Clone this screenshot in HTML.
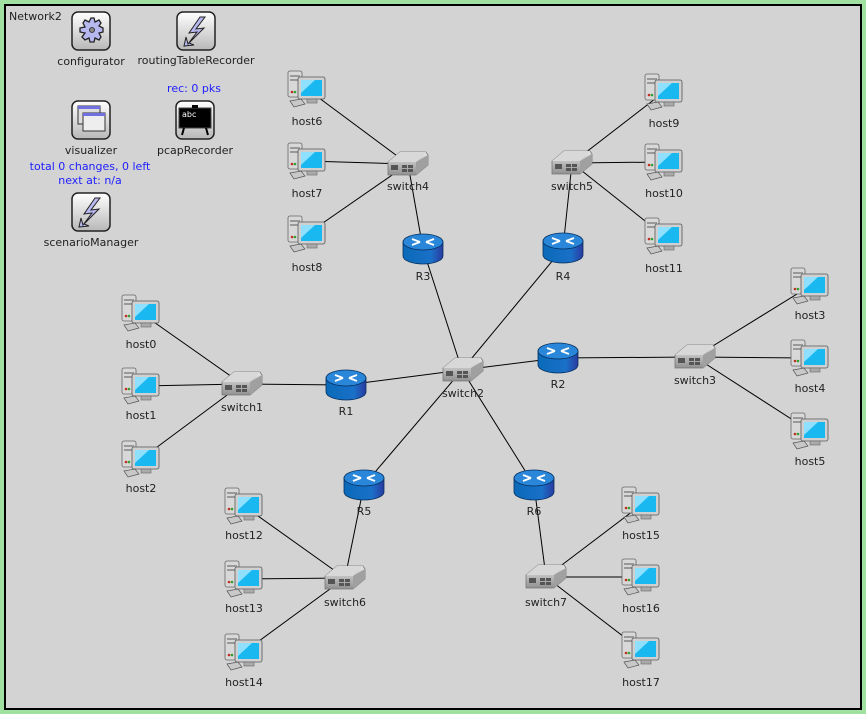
<!DOCTYPE html>
<html><head><meta charset="utf-8"><style>
body{margin:0;width:866px;height:714px;background:#a0e0a0;overflow:hidden}
svg{display:block}
text{font-family:"DejaVu Sans","Liberation Sans",sans-serif;font-size:11px;fill:#222}
.b{fill:#2020ff}
</style></head><body>
<svg width="866" height="714" viewBox="0 0 866 714">
<defs>
<linearGradient id="mg" x1="0" y1="0" x2="0" y2="1"><stop offset="0" stop-color="#ffffff"/><stop offset="1" stop-color="#b8b8b8"/></linearGradient>
<linearGradient id="rg" x1="0" y1="0" x2="1" y2="0"><stop offset="0" stop-color="#0a6ab8"/><stop offset="0.7" stop-color="#1a70c8"/><stop offset="1" stop-color="#2a3aa0"/></linearGradient>
<linearGradient id="sg" x1="0" y1="0" x2="0" y2="1"><stop offset="0" stop-color="#e8e8e8"/><stop offset="1" stop-color="#909090"/></linearGradient>
<g id="host">
<rect x="-19" y="-18" width="14" height="26" rx="2" fill="#d8d8d8" stroke="#666" stroke-width="0.8"/>
<rect x="-17" y="-14" width="10" height="2" fill="#999"/><rect x="-17" y="-10" width="10" height="2" fill="#999"/>
<circle cx="-15" cy="3" r="1.3" fill="#c03020"/><circle cx="-12" cy="3" r="1.3" fill="#30a030"/>
<rect x="-9" y="-12" width="27" height="22" rx="2" fill="#d0d0d0" stroke="#555" stroke-width="0.8"/>
<rect x="-6" y="-9" width="21" height="16" fill="#19b8f0"/>
<path d="M-6 -9 L8 -9 L-6 4 Z" fill="#8fe0ff"/>
<rect x="0" y="10" width="10" height="4" fill="#aaa" stroke="#666" stroke-width="0.6"/>
<path d="M-17 12 L-6 10 L-2 15 L-13 18 Z" fill="#c8c8c8" stroke="#555" stroke-width="0.7"/>
</g>
<g id="sw">
<path d="M-20 -1 L-8 -11 L18 -11 L20 -8 L20 2 L8 12 L-20 12 Z" fill="url(#sg)" stroke="#777" stroke-width="0.8"/>
<path d="M-20 -1 L-8 -11 L18 -11 L8 -1 Z" fill="#d8d8d8"/>
<path d="M8 -1 L20 -8 L20 2 L8 12 Z" fill="#a0a0a0"/>
<rect x="-17" y="2" width="7" height="5" fill="#555"/><rect x="-6" y="2" width="5" height="3" fill="#555"/><rect x="0" y="2" width="5" height="3" fill="#555"/><rect x="-6" y="6" width="5" height="3" fill="#555"/><rect x="0" y="6" width="5" height="3" fill="#555"/>
</g>
<g id="rt">
<path d="M-20 -7 L-20 7 A20 8 0 0 0 20 7 L20 -7 Z" fill="url(#rg)" stroke="#053060" stroke-width="0.8"/>
<ellipse cx="0" cy="-7" rx="20" ry="8" fill="#2a86d8" stroke="#053060" stroke-width="0.8"/>
<path d="M-11 -10 L-3 -7 M-11 -4 L-3 -7 M11 -10 L3 -7 M11 -4 L3 -7" stroke="#fff" stroke-width="2"/>
</g>
<g id="btn"><rect x="-19" y="-19" width="38" height="38" rx="6" fill="url(#mg)" stroke="#222" stroke-width="1.5"/></g>
<g id="bolt"><path d="M4 -14 L-7 2 L1 1 L-8 13 L-10 6 L-12 15 L-2 14 L-7 12 L8 -3 L0 -2 L9 -14 Z" fill="#b8b8f0" stroke="#222" stroke-width="1"/></g>
</defs>
<rect x="5" y="5" width="856" height="704" fill="#d3d3d3" stroke="#000" stroke-width="2"/>
<text x="9" y="20">Network2</text>
<g stroke="#000" stroke-width="1">
<line x1="307" y1="89" x2="408" y2="164"/><line x1="307" y1="161" x2="408" y2="164"/><line x1="307" y1="234" x2="408" y2="164"/>
<line x1="408" y1="164" x2="423" y2="249"/><line x1="423" y1="249" x2="462" y2="370"/>
<line x1="664" y1="92" x2="572" y2="163"/><line x1="664" y1="162" x2="572" y2="163"/><line x1="664" y1="236" x2="572" y2="163"/>
<line x1="572" y1="163" x2="563" y2="248"/><line x1="563" y1="248" x2="462" y2="370"/>
<line x1="141" y1="313" x2="242" y2="384"/><line x1="141" y1="386" x2="242" y2="384"/><line x1="141" y1="459" x2="242" y2="384"/>
<line x1="242" y1="384" x2="346" y2="385"/><line x1="346" y1="385" x2="462" y2="370"/>
<line x1="462" y1="370" x2="558" y2="358"/><line x1="558" y1="358" x2="695" y2="357"/>
<line x1="810" y1="286" x2="695" y2="357"/><line x1="810" y1="358" x2="695" y2="357"/><line x1="810" y1="431" x2="695" y2="357"/>
<line x1="462" y1="370" x2="364" y2="485"/><line x1="364" y1="485" x2="345" y2="578"/>
<line x1="462" y1="370" x2="534" y2="485"/><line x1="534" y1="485" x2="546" y2="577"/>
<line x1="244" y1="506" x2="345" y2="578"/><line x1="244" y1="579" x2="345" y2="578"/><line x1="244" y1="652" x2="345" y2="578"/>
<line x1="641" y1="505" x2="546" y2="577"/><line x1="641" y1="577" x2="546" y2="577"/><line x1="641" y1="650" x2="546" y2="577"/>
</g>
<!-- top-left modules -->
<g transform="translate(91,31)"><use href="#btn"/><path d="M0 -13 L3 -13 L4 -9 L8 -11 L10 -8 L8 -5 L12 -3 L12 1 L8 2 L10 6 L8 9 L4 7 L3 11 L-1 11 L-2 7 L-6 9 L-9 6 L-6 2 L-11 1 L-11 -3 L-6 -4 L-8 -8 L-6 -11 L-2 -9 Z" fill="#b8b8f0" stroke="#222" stroke-width="1.3"/><circle cx="1" cy="-1" r="2.5" fill="#888" stroke="#222" stroke-width="0.8"/></g>
<text x="91" y="65" text-anchor="middle">configurator</text>
<g transform="translate(196,31)"><use href="#btn"/><use href="#bolt"/></g>
<text x="196" y="64" text-anchor="middle">routingTableRecorder</text>
<text x="194" y="92" text-anchor="middle" class="b">rec: 0 pks</text>
<g transform="translate(91,120)"><use href="#btn"/><rect x="-13" y="-14" width="22" height="18" fill="#ddd" stroke="#333"/><rect x="-13" y="-14" width="22" height="3" fill="#7070e0"/><rect x="-8" y="-7" width="22" height="18" fill="#eee" stroke="#333"/><rect x="-8" y="-7" width="22" height="3" fill="#7070e0"/></g>
<text x="91" y="154" text-anchor="middle">visualizer</text>
<g transform="translate(195,120)"><use href="#btn"/><rect x="-16" y="-12" width="32" height="20" fill="#000" stroke="#444"/><text x="-13" y="-3" style="font-size:8px;fill:#fff">abc</text><path d="M-11 8 L-13 15 M11 8 L13 15" stroke="#000" stroke-width="2"/><rect x="-3" y="-15" width="6" height="3" fill="#000"/></g>
<text x="195" y="154" text-anchor="middle">pcapRecorder</text>
<text x="90" y="170" text-anchor="middle" class="b">total 0 changes, 0 left</text>
<text x="90" y="184" text-anchor="middle" class="b">next at: n/a</text>
<g transform="translate(91,212)"><use href="#btn"/><use href="#bolt"/></g>
<text x="91" y="246" text-anchor="middle">scenarioManager</text>
<!-- hosts -->
<g>
<use href="#host" x="307" y="89"/><text x="307" y="125" text-anchor="middle">host6</text>
<use href="#host" x="307" y="161"/><text x="307" y="197" text-anchor="middle">host7</text>
<use href="#host" x="307" y="234"/><text x="307" y="271" text-anchor="middle">host8</text>
<use href="#host" x="664" y="92"/><text x="664" y="127" text-anchor="middle">host9</text>
<use href="#host" x="664" y="162"/><text x="664" y="197" text-anchor="middle">host10</text>
<use href="#host" x="664" y="236"/><text x="664" y="272" text-anchor="middle">host11</text>
<use href="#host" x="141" y="313"/><text x="141" y="348" text-anchor="middle">host0</text>
<use href="#host" x="141" y="386"/><text x="141" y="419" text-anchor="middle">host1</text>
<use href="#host" x="141" y="459"/><text x="141" y="492" text-anchor="middle">host2</text>
<use href="#host" x="810" y="286"/><text x="810" y="319" text-anchor="middle">host3</text>
<use href="#host" x="810" y="358"/><text x="810" y="392" text-anchor="middle">host4</text>
<use href="#host" x="810" y="431"/><text x="810" y="465" text-anchor="middle">host5</text>
<use href="#host" x="244" y="506"/><text x="244" y="539" text-anchor="middle">host12</text>
<use href="#host" x="244" y="579"/><text x="244" y="612" text-anchor="middle">host13</text>
<use href="#host" x="244" y="652"/><text x="244" y="686" text-anchor="middle">host14</text>
<use href="#host" x="641" y="505"/><text x="641" y="539" text-anchor="middle">host15</text>
<use href="#host" x="641" y="577"/><text x="641" y="612" text-anchor="middle">host16</text>
<use href="#host" x="641" y="650"/><text x="641" y="686" text-anchor="middle">host17</text>
</g>
<!-- switches -->
<use href="#sw" x="408" y="163"/><text x="408" y="190" text-anchor="middle">switch4</text>
<use href="#sw" x="572" y="162"/><text x="572" y="190" text-anchor="middle">switch5</text>
<use href="#sw" x="242" y="383"/><text x="242" y="411" text-anchor="middle">switch1</text>
<use href="#sw" x="463" y="369"/><text x="463" y="397" text-anchor="middle">switch2</text>
<use href="#sw" x="695" y="356"/><text x="695" y="384" text-anchor="middle">switch3</text>
<use href="#sw" x="345" y="577"/><text x="345" y="606" text-anchor="middle">switch6</text>
<use href="#sw" x="546" y="576"/><text x="546" y="606" text-anchor="middle">switch7</text>
<!-- routers -->
<use href="#rt" x="423" y="249"/><text x="423" y="280" text-anchor="middle">R3</text>
<use href="#rt" x="563" y="248"/><text x="563" y="280" text-anchor="middle">R4</text>
<use href="#rt" x="346" y="385"/><text x="346" y="415" text-anchor="middle">R1</text>
<use href="#rt" x="558" y="358"/><text x="558" y="388" text-anchor="middle">R2</text>
<use href="#rt" x="364" y="485"/><text x="364" y="515" text-anchor="middle">R5</text>
<use href="#rt" x="534" y="485"/><text x="534" y="515" text-anchor="middle">R6</text>
</svg>
</body></html>
